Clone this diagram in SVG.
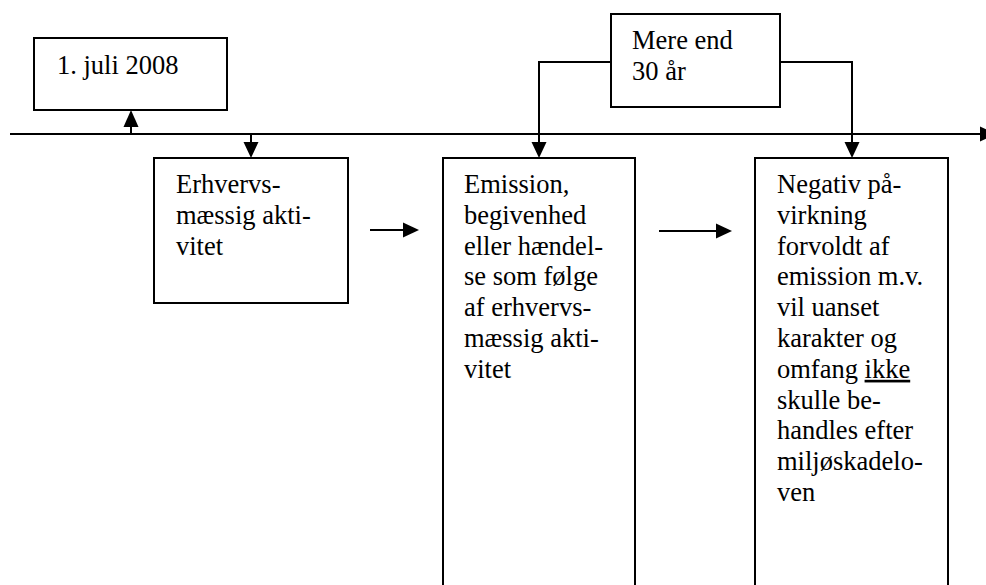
<svg xmlns="http://www.w3.org/2000/svg" width="986" height="585" viewBox="0 0 986 585">
<rect width="986" height="585" fill="#fff"/>
<g id="connectors" fill="none" stroke="#000" stroke-width="2">
<line x1="10" y1="134" x2="982" y2="134"/>
<line x1="131" y1="134" x2="131" y2="126"/>
<line x1="251" y1="134" x2="251" y2="143"/>
<path d="M611,62 H539 V143"/>
<path d="M780,62 H852 V143"/>
<line x1="370" y1="230" x2="404" y2="230"/>
<line x1="659" y1="231" x2="717" y2="231"/>
<g fill="#000" stroke="none">
<polygon points="996,134 980,126.5 980,141.5"/>
<polygon points="131,110 123.5,127 138.5,127"/>
<polygon points="251,158 243.5,142 258.5,142"/>
<polygon points="539,158 531.5,142 546.5,142"/>
<polygon points="852,158 844.5,142 859.5,142"/>
<polygon points="419,230 403,222.5 403,237.5"/>
<polygon points="732,231 716,223.5 716,238.5"/>
</g>
</g>
<g id="date">
<rect x="34" y="38" width="193" height="72" fill="#fff" stroke="#000" stroke-width="2"/>
<text x="57" y="74" style="font-family:'Liberation Serif',serif;font-size:26.5px">1. juli 2008</text>
</g>
<g id="period">
<rect x="611" y="14" width="169" height="93" fill="#fff" stroke="#000" stroke-width="2"/>
<text x="632" y="49" style="font-family:'Liberation Serif',serif;font-size:26.5px">Mere end</text>
<text x="632" y="80" style="font-family:'Liberation Serif',serif;font-size:26.5px">30 år</text>
</g>
<g id="activity">
<rect x="154" y="158" width="194" height="145" fill="#fff" stroke="#000" stroke-width="2"/>
<text x="176" y="193" style="font-family:'Liberation Serif',serif;font-size:26.5px">Erhvervs-</text>
<text x="176" y="223.8" style="font-family:'Liberation Serif',serif;font-size:26.5px">mæssig akti-</text>
<text x="176" y="254.6" style="font-family:'Liberation Serif',serif;font-size:26.5px">vitet</text>
</g>
<g id="emission">
<rect x="443" y="158" width="192" height="440" fill="#fff" stroke="#000" stroke-width="2"/>
<text x="464" y="193" style="font-family:'Liberation Serif',serif;font-size:26.5px">Emission,</text>
<text x="464" y="223.8" style="font-family:'Liberation Serif',serif;font-size:26.5px">begivenhed</text>
<text x="464" y="254.6" style="font-family:'Liberation Serif',serif;font-size:26.5px">eller hændel-</text>
<text x="464" y="285.4" style="font-family:'Liberation Serif',serif;font-size:26.5px">se som følge</text>
<text x="464" y="316.2" style="font-family:'Liberation Serif',serif;font-size:26.5px">af erhvervs-</text>
<text x="464" y="347" style="font-family:'Liberation Serif',serif;font-size:26.5px">mæssig akti-</text>
<text x="464" y="377.8" style="font-family:'Liberation Serif',serif;font-size:26.5px">vitet</text>
</g>
<g id="impact">
<rect x="755" y="158" width="193" height="440" fill="#fff" stroke="#000" stroke-width="2"/>
<text x="777" y="193" style="font-family:'Liberation Serif',serif;font-size:26.5px">Negativ på-</text>
<text x="777" y="223.8" style="font-family:'Liberation Serif',serif;font-size:26.5px">virkning</text>
<text x="777" y="254.6" style="font-family:'Liberation Serif',serif;font-size:26.5px">forvoldt af</text>
<text x="777" y="285.4" style="font-family:'Liberation Serif',serif;font-size:26.5px">emission m.v.</text>
<text x="777" y="316.2" style="font-family:'Liberation Serif',serif;font-size:26.5px">vil uanset</text>
<text x="777" y="347" style="font-family:'Liberation Serif',serif;font-size:26.5px">karakter og</text>
<text x="777" y="377.8" style="font-family:'Liberation Serif',serif;font-size:26.5px">omfang <tspan text-decoration="underline">ikke</tspan></text>
<text x="777" y="408.6" style="font-family:'Liberation Serif',serif;font-size:26.5px">skulle be-</text>
<text x="777" y="439.4" style="font-family:'Liberation Serif',serif;font-size:26.5px">handles efter</text>
<text x="777" y="470.2" style="font-family:'Liberation Serif',serif;font-size:26.5px">miljøskadelo-</text>
<text x="777" y="501" style="font-family:'Liberation Serif',serif;font-size:26.5px">ven</text>
</g>
</svg>
